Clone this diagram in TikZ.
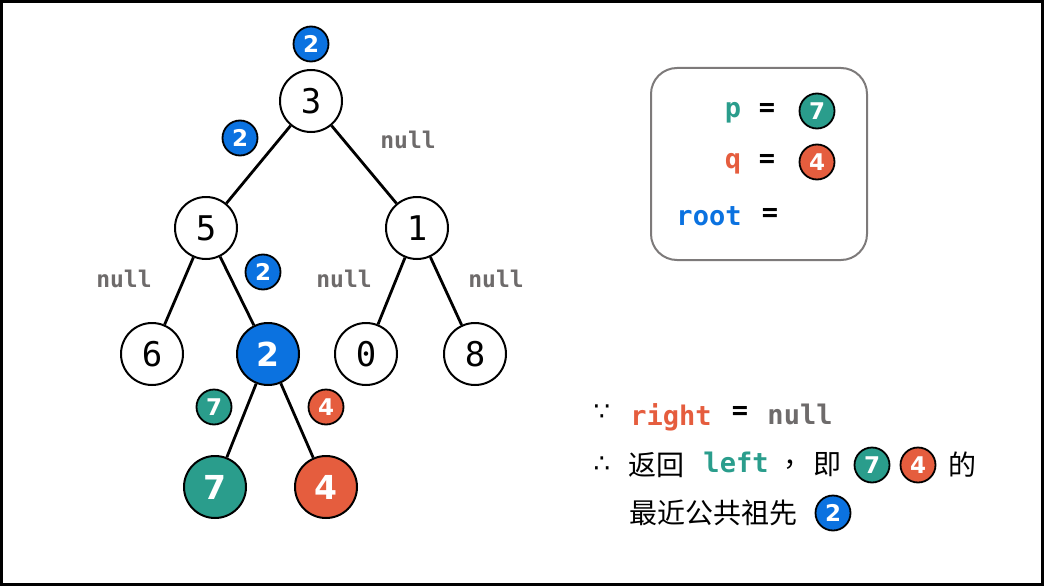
\documentclass[tikz,border=0pt]{standalone}
\usepackage{fontspec}
\setmainfont{DejaVu Sans}
\newfontfamily\cjk{Noto Sans CJK SC}
\newfontfamily\monob{DejaVu Sans Mono}
\newfontfamily\digitb{DejaVu Sans}
\definecolor{teal2}{HTML}{2A9D8C}
\definecolor{orng}{HTML}{E55D3E}
\definecolor{blu}{HTML}{0B72E0}
\definecolor{gry}{HTML}{6E6B6B}
\tikzset{
  tn/.style={circle,draw=black,line width=2pt,fill=white,minimum size=62pt,inner sep=0pt,font=\monob\fontsize{34}{34}\selectfont},
  cn/.style={tn,fill=#1,text=white,font=\digitb\bfseries\fontsize{33}{33}\selectfont},
  badge/.style={circle,draw=black,line width=1.8pt,fill=#1,text=white,minimum size=35pt,inner sep=0pt,font=\digitb\bfseries\fontsize{23}{23}\selectfont},
  nul/.style={text=gry,font=\monob\bfseries\fontsize{23}{23}\selectfont},
  code/.style={text=#1,font=\monob\bfseries\fontsize{27}{27}\selectfont},
  zh/.style={font=\cjk\fontsize{28}{28}\selectfont},
  edge/.style={line width=2.8pt}
}
\begin{document}
\begin{tikzpicture}[x=1pt,y=-1pt]
\useasboundingbox (0,0) rectangle (1044,586);
\draw[line width=3pt] (1.5,1.5) rectangle (1042.5,584.5);
% tree nodes
\node[tn] (n3) at (311,101) {3};
\node[tn] (n5) at (206,228) {5};
\node[tn] (n1) at (417,228) {1};
\node[tn] (n6) at (152,354) {6};
\node[cn=blu] (n2) at (268,354) {2};
\node[tn] (n0) at (366,354) {0};
\node[tn] (n8) at (475,354) {8};
\node[cn=teal2] (n7) at (215,487) {7};
\node[cn=orng] (n4) at (326,487) {4};
% edges
\draw[edge] (n3) -- (n5);
\draw[edge] (n3) -- (n1);
\draw[edge] (n5) -- (n6);
\draw[edge] (n5) -- (n2);
\draw[edge] (n1) -- (n0);
\draw[edge] (n1) -- (n8);
\draw[edge] (n2) -- (n7);
\draw[edge] (n2) -- (n4);
% badges
\node[badge=blu] (b1) at (311,44) {2};
\node[badge=blu] (b2) at (240,138) {2};
\node[badge=blu] (b3) at (263,272) {2};
\node[badge=teal2] (b4) at (214,407) {7};
\node[badge=orng] (b5) at (326,407) {4};
% null labels
\node[nul] (l1) at (408,140) {null};
\node[nul] (l2) at (124,279) {null};
\node[nul] (l3) at (344,279) {null};
\node[nul] (l4) at (496,279) {null};
% box
\draw[rounded corners=26pt,draw=gry!90,line width=2pt] (651,68) rectangle (867,260);
\node[code=teal2] (pp) at (733,113) {p};
\node[code=black] (e1) at (767,110) {=};
\node[badge=teal2] (pv) at (817,111) {7};
\node[code=orng] (qq) at (733,164) {q};
\node[code=black] (e2) at (767,161) {=};
\node[badge=orng] (qv) at (817,162) {4};
\node[code=blu] (rt) at (709,216) {root};
\node[code=black] (e3) at (770,215) {=};
% bottom text
\node[font=\fontsize{26}{26}\selectfont] (s1) at (602,413) {∵};
\node[code=orng] (r1) at (671,417) {right};
\node[code=black] (r2) at (740,413) {=};
\node[code=gry] (r3) at (800,414) {null};
\node[font=\fontsize{26}{26}\selectfont] (s2) at (602,465) {∴};
\node[zh] (t1) at (656,465) {返回};
\node[code=teal2] (t2) at (736,462) {left};
\node[zh] (t3) at (797,465) {，};
\node[zh] (t4) at (827,465) {即};
\node[badge=teal2] (t5) at (872,465) {7};
\node[badge=orng] (t6) at (918,465) {4};
\node[zh] (t7) at (962,465) {的};
\node[zh] (u1) at (713,513) {最近公共祖先};
\node[badge=blu] (u2) at (833,513) {2};
\end{tikzpicture}
\end{document}
